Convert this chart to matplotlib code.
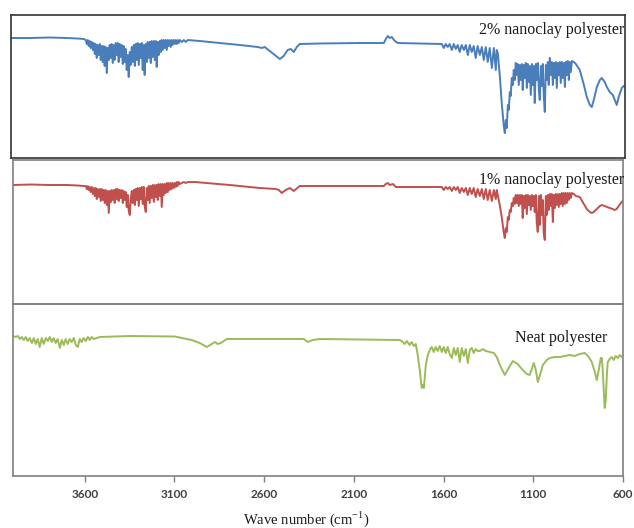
"""
FTIR spectra of neat and nanoclay-filled polyester
"""
import numpy as np
import matplotlib
matplotlib.use('Agg')
import matplotlib.pyplot as plt

plt.rcParams['mathtext.fontset'] = 'custom'
plt.rcParams['mathtext.rm'] = 'Liberation Serif'

# --- shared wavenumber grids (cm-1) ---
wn_oh = [3594, 3589, 3583, 3578, 3572, 3567, 3561, 3555, 3550, 3544, 3539, 3533, 3528, 3522, 3516,
         3511, 3505, 3500, 3494, 3489, 3483, 3477, 3472, 3466, 3461, 3455, 3450, 3444, 3438, 3433,
         3427, 3422, 3416, 3411, 3405, 3399, 3394, 3388, 3383, 3377, 3372, 3366, 3360, 3355, 3349,
         3344, 3338, 3333, 3327, 3321, 3316, 3310, 3305, 3299, 3293, 3288, 3282, 3277, 3271, 3266,
         3260, 3254, 3249, 3243, 3238, 3232, 3227, 3221, 3215, 3210, 3204, 3199, 3193, 3188, 3182,
         3176, 3171, 3165, 3160, 3154, 3149, 3143, 3137, 3132, 3126, 3121, 3115, 3110, 3104, 3098,
         3093, 3087, 3082, 3076, 3070, 3059, 3048, 3037, 3026]
wn_fp = [1621, 1610, 1599, 1588, 1577, 1566, 1554, 1543, 1532, 1521, 1510, 1499, 1487, 1476, 1465,
         1454, 1443, 1432, 1421, 1410, 1398, 1387, 1376, 1365, 1354, 1343, 1331, 1320, 1309, 1304,
         1298, 1287, 1276, 1265, 1259, 1253, 1248, 1242, 1237, 1231, 1226, 1220, 1214, 1209, 1203,
         1198, 1192, 1187, 1181, 1175, 1170, 1164, 1159, 1153, 1148, 1142, 1136, 1131, 1125, 1120,
         1114, 1108, 1103, 1097, 1092, 1086, 1081, 1075, 1069, 1064, 1058, 1053, 1047, 1042, 1036,
         1030, 1025, 1019, 1014, 1008, 1002, 997, 991, 986, 980, 975, 969, 963, 958, 952, 947, 941,
         936, 930, 924, 919, 913, 908, 902, 897, 891, 885, 874, 863, 841, 818, 802, 785, 774, 763,
         746, 729, 718, 702, 690, 674, 657, 646, 635, 624, 607, 596]

# --- 2% nanoclay (blue), transmittance in arbitrary units ---
blue_start_wn = [4011, 3900, 3800, 3700, 3640, 3605]
blue_start = [120, 120, 120.5, 120, 119.5, 119]
blue_oh = [118, 114, 118, 112, 117, 110, 116, 108, 115, 104,
           114, 100, 113, 103, 114, 98, 112, 96, 112, 92,
           111, 85, 110, 98, 113, 100, 114, 95, 113, 98,
           115, 103, 115, 96, 114, 101, 113, 94, 112, 96,
           109, 88, 103, 81, 106, 93, 111, 96, 113, 92,
           114, 98, 115, 93, 114, 100, 115, 88, 113, 83,
           114, 96, 116, 100, 116, 95, 117, 101, 117, 98,
           117, 91, 116, 103, 117, 106, 118, 108, 118, 110,
           118, 108, 118, 112, 118, 111, 118, 113, 118, 114,
           118, 114, 118, 115, 118, 116, 118, 116, 118]
blue_mid_wn = [2959, 2847, 2736, 2636, 2613, 2597, 2569, 2541, 2513, 2491, 2469, 2452, 2435,
               2418, 2402, 2290, 2067, 1933, 1922, 1911, 1900, 1889, 1872, 1855, 1733]
blue_mid = [117, 115, 113, 111, 110, 111, 107, 103, 99, 102, 108, 109, 106,
            111, 114, 114.5, 115, 115, 119, 122, 120, 121, 117, 115, 114.5]
blue_fp = [114, 114, 110, 114, 111, 114, 108, 114, 109, 113, 106, 113, 108, 113, 103,
           113, 106, 112, 100, 112, 103, 111, 98, 111, 96, 110, 90, 110, 88, 108,
           105, 83, 55, 33,
           25, 38, 30, 53, 48, 66, 62, 80, 73, 88, 78, 95, 83, 94, 73, 93, 78, 94, 68, 93,
           80, 95, 70, 94, 76, 92, 63, 94, 73, 92, 55, 94, 78, 95, 68, 58, 92, 72, 94, 63,
           46, 93, 78, 96, 73, 100, 83, 96, 73, 95, 80, 96, 70, 95, 83, 96, 75, 96, 80, 95,
           71, 96, 83, 97, 78, 96, 86, 97,
           96, 94,
           88, 73, 61, 53, 51, 58, 71, 78, 80, 76, 71, 66, 63, 58, 53, 61, 70, 72]

# --- 1% nanoclay (red) ---
red_start_wn = [4000, 3900, 3800, 3700, 3640, 3605]
red_start = [119, 119.5, 119, 119, 118.5, 118]
red_oh = [118, 115, 118, 114, 117, 112, 117, 110, 116, 108,
          116, 105, 115, 107, 115, 103, 115, 104, 114, 101,
          114, 99, 113, 91, 113, 102, 114, 104, 114, 101,
          115, 105, 115, 103, 114, 106, 114, 101, 113, 104,
          112, 97, 109, 93, 89, 104, 113, 101, 114, 99,
          115, 104, 116, 98, 116, 105, 117, 100, 117, 98,
          92, 116, 104, 118, 101, 118, 106, 119, 102, 119,
          107, 119, 104, 120, 108, 120, 97, 120, 109, 120,
          111, 121, 112, 121, 114, 121, 115, 121, 116, 121,
          117, 122, 118, 122, 120, 121, 122, 121, 122]
red_mid_wn = [2987, 2792, 2625, 2535, 2518, 2502, 2480, 2457, 2435, 2402, 2179,
              1933, 1922, 1911, 1900, 1883, 1866, 1733]
red_mid = [122, 119, 116, 115, 114, 111, 114, 116, 113, 118, 118,
           118, 120, 121, 119, 120, 117, 117]
red_fp = [117, 117, 114, 117, 115, 117, 113, 117, 114, 117, 111, 116, 112, 116, 109,
          116, 110, 116, 107, 115, 108, 115, 105, 115, 104, 114, 103, 114, 105, 114,
          109, 99, 87, 72,
          66, 76, 72, 87, 84, 94, 92, 101, 98, 106, 100, 109, 101, 109, 98, 109, 100, 109, 86, 108,
          96, 109, 90, 109, 99, 108, 94, 109, 98, 108, 92, 109, 82, 72, 108, 79, 109, 89, 104, 71,
          64, 108, 89, 109, 94, 110, 98, 110, 82, 109, 96, 110, 99, 110, 97, 110, 100, 111, 98, 111,
          100, 111, 101, 111, 104, 111, 106, 111,
          110, 108,
          107, 100, 95, 92, 91, 92, 95, 98, 99, 98, 97, 96, 95, 94, 95, 98, 102, 104]

# --- neat polyester (green) ---
green_wn = [4000, 3985, 3973, 3962, 3951, 3940, 3929, 3918, 3907, 3895, 3884, 3873, 3862, 3851,
            3840, 3829, 3817, 3806, 3795, 3784, 3773, 3762, 3751, 3739, 3728, 3717, 3706, 3695,
            3684, 3673, 3661, 3650, 3639, 3628, 3617, 3606, 3594, 3583, 3572, 3561, 3550,
            3516, 3349, 3098, 3005, 2959, 2920, 2892, 2875, 2859, 2842, 2808, 2625, 2379, 2357,
            2329, 2290, 2067, 1844,
            1833, 1817, 1805, 1789, 1778, 1766, 1755, 1744, 1733, 1722, 1716, 1710, 1699, 1688,
            1677, 1666, 1655, 1644, 1633, 1621, 1610, 1599, 1588, 1577, 1566, 1554, 1543, 1532,
            1521, 1510, 1499, 1487, 1476, 1465, 1454, 1443, 1432, 1421, 1410, 1398, 1382, 1365,
            1343, 1320, 1304, 1281, 1259, 1237, 1214, 1187, 1159, 1136, 1120, 1097, 1086, 1075,
            1064, 1047, 1025, 1008, 980, 952, 924, 897, 869, 841, 813, 791, 774, 757, 746, 735,
            724, 718, 713, 702, 696, 690, 685, 674, 663, 652, 641, 629, 618, 607, 596]
green_t = [140, 139, 140, 137, 139, 136, 139, 135, 138, 133, 138, 132, 137, 129,
           138, 132, 138, 135, 139, 134, 138, 133, 137, 128, 136, 131, 137, 132,
           137, 134, 138, 131, 129, 137, 134, 138, 135, 139, 136, 139, 137,
           139, 140, 139.5, 136, 133, 129, 132, 134, 132, 133, 137, 137, 137, 134,
           136, 137, 136.5, 136,
           135, 132, 135, 131, 134, 130, 132, 121, 106, 88, 91, 88, 111, 121,
           126, 129, 124, 129, 125, 130, 124, 129, 123, 129, 122, 118, 128, 121,
           128, 114, 128, 120, 127, 113, 126, 128, 123, 127, 125, 125, 127, 125,
           124, 123, 119, 109, 101, 108, 115, 112, 106, 102, 101, 113, 106, 94,
           100, 111, 116, 118, 119, 119, 120, 121, 120, 122, 123, 119, 114, 104, 96, 106,
           118, 118, 106, 68, 76, 101, 114, 117, 119, 116, 120, 118, 121, 119, 121]

ticks = [3600, 3100, 2600, 2100, 1600, 1100, 600]

blue_wn = blue_start_wn + wn_oh + blue_mid_wn + wn_fp
blue_t = blue_start + blue_oh + blue_mid + blue_fp
red_wn = red_start_wn + wn_oh + red_mid_wn + wn_fp
red_t = red_start + red_oh + red_mid + red_fp

W, H = 634, 528
fig = plt.figure(figsize=(W / 100, H / 100), dpi=100)

def px_axes(x0, y0, x1, y1):
    return fig.add_axes([x0 / W, 1 - y1 / H, (x1 - x0) / W, (y1 - y0) / H])

ax1 = px_axes(11, 15, 625, 158)
ax2 = px_axes(13, 160, 623, 304)
ax3 = px_axes(13, 304, 623, 476)

ax1.plot(blue_wn, blue_t, color='#4a7ebb', lw=1.4)
ax2.plot(red_wn, red_t, color='#c0504d', lw=1.4)
ax3.plot(green_wn, green_t, color='#9bbb59', lw=1.4)

ax1.set_xlim(4011, 589); ax1.set_ylim(0, 143)
ax2.set_xlim(4000, 600); ax2.set_ylim(0, 144)
ax3.set_xlim(4000, 600); ax3.set_ylim(0, 172)

for ax, c in [(ax1, '#333333'), (ax2, '#808080'), (ax3, '#808080')]:
    ax.set_yticks([])
    for s in ax.spines.values():
        s.set_color(c); s.set_linewidth(1.2)
    ax.patch.set_alpha(0)
ax1.set_xticks([]); ax2.set_xticks([])

ax3.set_xticks(ticks)
ax3.set_xticklabels([str(t) for t in ticks], fontfamily='Lato', fontweight='bold',
                    fontsize=8.5, color='#404040')
ax3.tick_params(axis='x', length=4, width=1, color='#808080', pad=5)

lab = dict(fontfamily='Liberation Serif', fontsize=11.5, color='#1a1a1a', ha='right', va='center')
fig.text(624 / W, 1 - 30 / H, '2% nanoclay polyester', **lab)
fig.text(624 / W, 1 - 180 / H, '1% nanoclay polyester', **lab)
fig.text(607 / W, 1 - 338 / H, 'Neat polyester', **lab)

fig.text(306 / W, 1 - 519 / H, r'Wave number (cm$^{\mathregular{-1}}$)', fontfamily='Liberation Serif',
         fontsize=10.5, color='#1a1a1a', ha='center', va='center')

fig.savefig('out.png', dpi=100)
